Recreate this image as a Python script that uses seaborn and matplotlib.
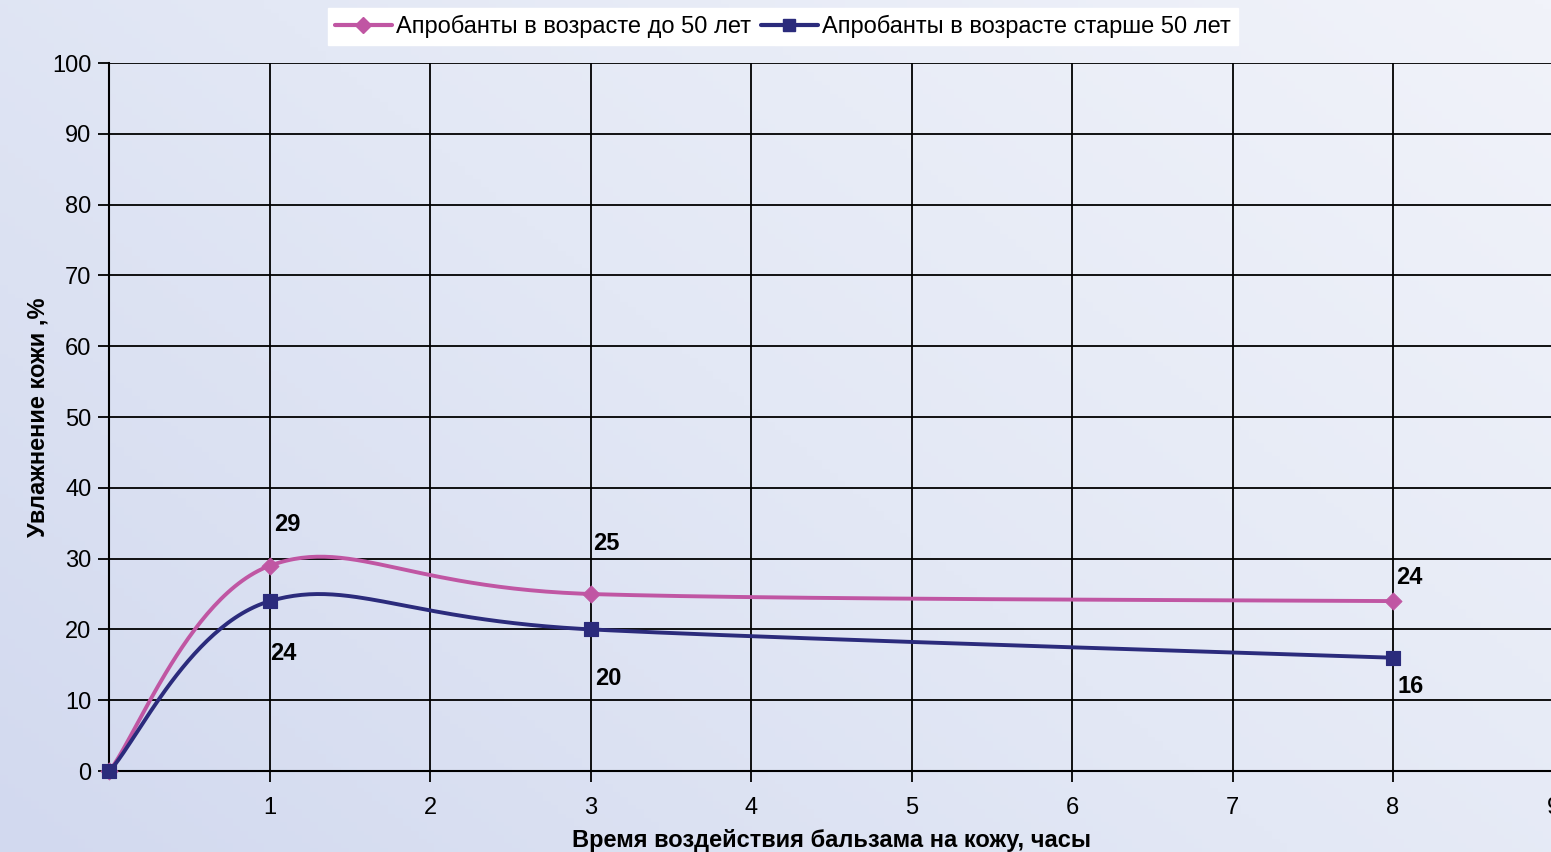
import numpy as np
import pandas as pd
import matplotlib
matplotlib.use("Agg")
import matplotlib.pyplot as plt
from matplotlib.lines import Line2D
from matplotlib.colors import LinearSegmentedColormap
import seaborn as sns

# data
hours = [0, 1, 3, 8]
young = [0, 29, 25, 24]
old = [0, 24, 20, 16]
series_names = ["Апробанты в возрасте до 50 лет", "Апробанты в возрасте старше 50 лет"]
x_ticks = [1, 2, 3, 4, 5, 6, 7, 8, 9]
y_ticks = [0, 10, 20, 30, 40, 50, 60, 70, 80, 90, 100]

PINK = "#c056a3"
NAVY = "#2b2b7c"
FS = 17


def smooth(xs, ys, n=60):
    """Excel-like smoothed line (Catmull-Rom as cubic Bezier)."""
    pts = np.column_stack([xs, ys]).astype(float)
    ext = np.vstack([pts[0], pts, pts[-1]])
    out = []
    t = np.linspace(0, 1, n)[:, None]
    for i in range(1, len(ext) - 2):
        p0, p1, p2, p3 = ext[i - 1], ext[i], ext[i + 1], ext[i + 2]
        c1 = p1 + (p2 - p0) / 6
        c2 = p2 - (p3 - p1) / 6
        seg = ((1 - t) ** 3) * p1 + 3 * ((1 - t) ** 2) * t * c1 + 3 * (1 - t) * t ** 2 * c2 + t ** 3 * p2
        out.append(seg if i == 1 else seg[1:])
    out = np.vstack(out)
    return out[:, 0], out[:, 1]


sns.set_theme(style="white")
plt.rcParams["font.family"] = ["Liberation Sans", "DejaVu Sans"]
plt.rcParams["text.color"] = "black"
plt.rcParams["axes.labelcolor"] = "black"

fig = plt.figure(figsize=(15.51, 8.52), dpi=100)

# gradient background
bg = fig.add_axes([0, 0, 1, 1], zorder=-10)
gx, gy = np.meshgrid(np.linspace(0, 1, 200), np.linspace(0, 1, 200))
grad = (gx * 0.6 + gy * 0.4)
cmap = LinearSegmentedColormap.from_list("bg", ["#d2d9ef", "#e3e8f5", "#f1f3fa"])
bg.imshow(grad, cmap=cmap, origin="lower", aspect="auto", extent=[0, 1, 0, 1])
bg.axis("off")

left = 109.5 / 1551
right = 1553.5 / 1551
top = 1 - 63 / 852
bottom = 1 - 771 / 852
ax = fig.add_axes([left, bottom, right - left, top - bottom])
ax.patch.set_alpha(0)

sx, sy = smooth(hours, young)
df_y = pd.DataFrame({"x": sx, "y": sy})
sns.lineplot(data=df_y, x="x", y="y", sort=False, color=PINK, lw=2.8, ax=ax, zorder=3)
sx, sy = smooth(hours, old)
df_o = pd.DataFrame({"x": sx, "y": sy})
sns.lineplot(data=df_o, x="x", y="y", sort=False, color=NAVY, lw=2.8, ax=ax, zorder=4)

pts = pd.DataFrame({"x": hours, "young": young, "old": old})
sns.scatterplot(data=pts, x="x", y="young", marker="D", s=75, color=PINK, edgecolor=PINK,
                ax=ax, zorder=5, clip_on=False)
sns.scatterplot(data=pts, x="x", y="old", marker="s", s=105, color=NAVY, edgecolor=NAVY,
                ax=ax, zorder=6, clip_on=False)

# data labels (skip the zero point)
young_offsets = [None, (4, 41), (2, 51), (3, 24)]
old_offsets = [None, (0, -52), (4, -49), (4, -29)]
for i in range(1, len(hours)):
    ax.annotate(str(young[i]), (hours[i], young[i]), xytext=young_offsets[i], textcoords="offset pixels",
                fontsize=FS, fontweight="bold", ha="left", va="center", color="black")
    ax.annotate(str(old[i]), (hours[i], old[i]), xytext=old_offsets[i], textcoords="offset pixels",
                fontsize=FS, fontweight="bold", ha="left", va="center", color="black")

ax.set_xlim(0, 9)
ax.set_ylim(0, 100)
ax.set_xticks(x_ticks)
ax.set_yticks(y_ticks)
ax.grid(True, color="black", lw=1.3)
ax.tick_params(axis="both", direction="out", length=8, width=1.3, color="black",
               labelsize=FS, labelcolor="black", bottom=True, left=True)
ax.tick_params(axis="x", pad=11)
ax.tick_params(axis="y", pad=5)
for s in ["top", "right"]:
    ax.spines[s].set_visible(False)
for s in ["left", "bottom"]:
    ax.spines[s].set_color("black")
    ax.spines[s].set_linewidth(1.5)

ax.set_xlabel("Время воздействия бальзама на кожу, часы", fontsize=FS, fontweight="bold", labelpad=7)
ax.set_ylabel("Увлажнение кожи ,%", fontsize=FS, fontweight="bold", labelpad=2)

handles = [
    Line2D([], [], color=PINK, lw=3, marker="D", markersize=8),
    Line2D([], [], color=NAVY, lw=3, marker="s", markersize=9),
]
leg = fig.legend(handles, series_names, loc="upper center", bbox_to_anchor=(783 / 1551, 1 - 8 / 852),
                 ncol=2, fontsize=FS, frameon=True, fancybox=False, handlelength=2.4,
                 handletextpad=0.2, columnspacing=0.4, borderpad=0.3, borderaxespad=0)
leg.get_frame().set_facecolor("white")
leg.get_frame().set_edgecolor("white")
leg.get_frame().set_alpha(1)

fig.savefig("out.png", dpi=100)
